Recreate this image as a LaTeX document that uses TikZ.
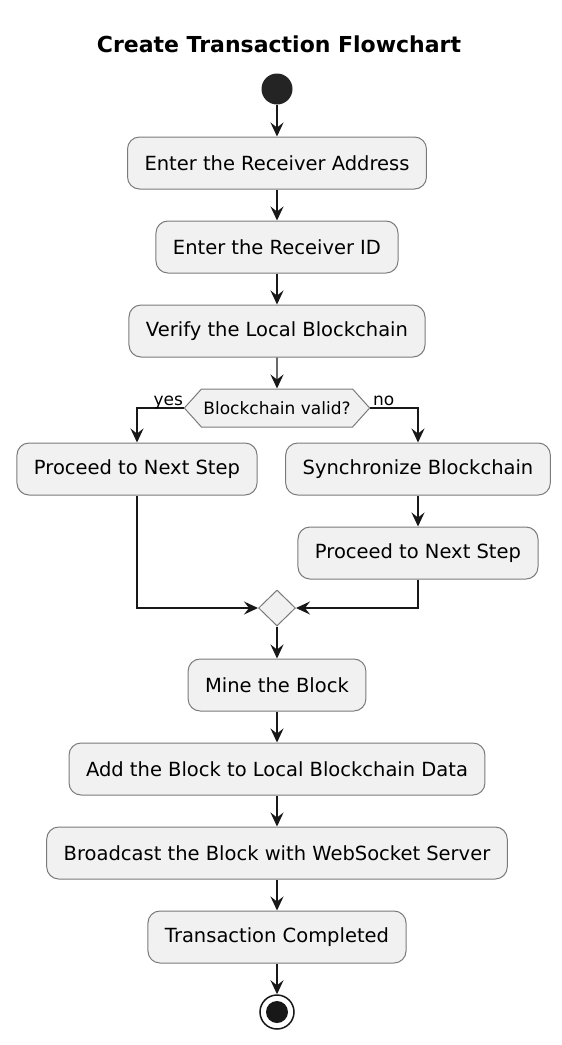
\documentclass[tikz,border=0pt]{standalone}
\usepackage{fontspec}
\setmainfont{DejaVu Sans}
\usepackage{tikz}
\usetikzlibrary{arrows.meta,shapes.geometric,shapes.symbols}

\definecolor{boxfill}{HTML}{F1F1F1}
\definecolor{boxline}{HTML}{7A7A7A}
\definecolor{flowline}{HTML}{181818}

\tikzset{
  title/.style={font=\bfseries\fontsize{22}{26}\selectfont, anchor=base},
  box/.style={rectangle, rounded corners=12pt, draw=boxline, line width=1pt,
              fill=boxfill, minimum height=52pt, inner xsep=17pt,
              font=\fontsize{19.5}{22}\selectfont},
  hexbox/.style={signal, signal to=west and east, signal pointer angle=96,
              draw=boxline, line width=1pt, fill=boxfill, minimum height=38pt,
              inner xsep=2pt, font=\fontsize{17}{20}\selectfont},
  joinbox/.style={diamond, draw=boxline, line width=1pt, fill=boxfill,
              minimum width=37pt, minimum height=36pt, inner sep=0pt},
  startdot/.style={circle, fill=flowline!95!white, minimum size=31pt, inner sep=0pt},
  enddot/.style={circle, draw=flowline, line width=1.5pt, minimum size=34pt,
              inner sep=0pt,
              path picture={\fill[flowline] (path picture bounding box.center) circle (11pt);}},
  branch/.style={font=\fontsize{17}{20}\selectfont, inner sep=0pt, yshift=3pt}
}

\begin{document}
\begin{tikzpicture}[x=1pt,y=-1pt]
\useasboundingbox (0,0) rectangle (562,1045);

\node[title] (title) at (279,52) {Create Transaction Flowchart};

\node[startdot] (start) at (277,89) {};

\begin{scope}[every node/.style={box}]
    \node (addr) at (277,163) {Enter the Receiver Address};
    \node (rid) at (277,247) {Enter the Receiver ID};
    \node (verify) at (277,331) {Verify the Local Blockchain};
    \node (nexta) at (137,469) {Proceed to Next Step};
    \node (sync) at (418,469) {Synchronize Blockchain};
    \node (nextb) at (418,553) {Proceed to Next Step};
    \node (mine) at (277,685) {Mine the Block};
    \node (add) at (277,769) {Add the Block to Local Blockchain Data};
    \node (bcast) at (277,853) {Broadcast the Block with WebSocket Server};
    \node (done) at (277,937) {Transaction Completed};
\end{scope}

\node[hexbox] (valid) at (277,408) {Blockchain valid?};
\node[joinbox] (join) at (277,608) {};
\node[enddot] (stop) at (277,1012) {};

\begin{scope}[>={Stealth[length=14pt,width=13pt,inset=5pt]},
              every edge/.style={draw=flowline,line width=1.4pt},
              every path/.style={draw=flowline,line width=1.4pt}]
    \path [->] (start) edge (addr);
    \path [->] (addr) edge (rid);
    \path [->] (rid) edge (verify);
    \path [->] (verify) edge (valid);
    \draw [->] (valid.west) -| (nexta)
        node[branch, pos=0, anchor=base east] (yes) {yes};
    \draw [->] (valid.east) -| (sync)
        node[branch, pos=0, anchor=base west, xshift=2pt] (no) {no};
    \path [->] (sync) edge (nextb);
    \draw [->] (nexta) |- (join);
    \draw [->] (nextb) |- (join);
    \path [->] (join) edge (mine);
    \path [->] (mine) edge (add);
    \path [->] (add) edge (bcast);
    \path [->] (bcast) edge (done);
    \path [->] (done) edge (stop);
\end{scope}
\end{tikzpicture}
\end{document}
